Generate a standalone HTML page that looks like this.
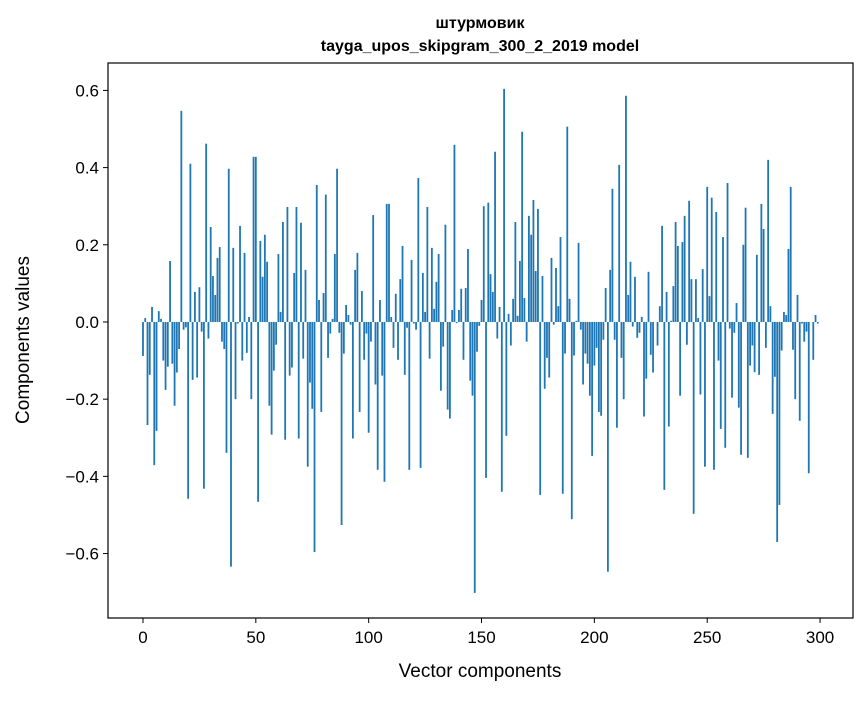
<!DOCTYPE html>
<html><head><meta charset="utf-8"><style>
body{margin:0;background:#fff;}
svg text{font-family:"Liberation Sans","DejaVu Sans",sans-serif;fill:#000;}
</style></head><body>
<svg id="chart" width="867" height="696" xmlns="http://www.w3.org/2000/svg">
<rect width="867" height="696" fill="#fff"/>
<text x="480" y="28" text-anchor="middle" font-size="16" font-weight="bold">штурмовик</text>
<text x="480" y="51" text-anchor="middle" font-size="16" font-weight="bold">tayga_upos_skipgram_300_2_2019 model</text>
<g id="bars"></g>
<g id="axes"></g>
<rect x="108" y="63" width="745" height="555" fill="none" stroke="#000" stroke-width="1.2"/>
<text x="480" y="677" text-anchor="middle" font-size="19">Vector components</text>
<text transform="translate(29,340) rotate(-90)" text-anchor="middle" font-size="19">Components values</text>
</svg>
<script>
const values = [
-0.088,0.01,-0.267,-0.137,0.039,-0.371,-0.282,0.028,0.008,-0.10,
-0.176,-0.116,0.158,-0.108,-0.217,-0.131,-0.07,0.547,-0.02,-0.014,
-0.458,0.41,-0.15,0.078,-0.144,0.09,-0.025,-0.432,0.462,-0.043,
0.246,0.119,0.07,0.166,0.194,-0.051,-0.07,-0.339,0.397,-0.634,
0.192,-0.2,-0.004,0.249,-0.1,0.179,-0.08,0.013,-0.2,0.428,
0.428,-0.466,0.21,0.117,0.226,0.156,-0.217,-0.292,-0.126,-0.059,
0.176,0.026,0.259,-0.305,0.298,-0.139,-0.118,0.127,0.298,-0.302,
0.257,-0.095,0.135,-0.375,-0.157,-0.225,-0.596,0.355,0.057,-0.233,
0.075,0.33,-0.093,-0.03,0.008,0.176,0.397,-0.028,-0.526,-0.082,
0.044,0.018,-0.007,-0.302,0.135,0.179,-0.233,0.08,-0.098,-0.03,
-0.287,-0.051,0.277,-0.162,-0.383,0.057,-0.139,-0.414,0.306,0.306,
0.013,-0.067,0.073,-0.098,0.111,0.197,-0.137,-0.015,-0.383,0.161,
-0.004,-0.02,0.373,-0.378,0.127,0.026,0.298,-0.095,0.192,0.034,
0.104,0.176,-0.178,-0.064,0.252,-0.227,-0.25,0.031,0.459,-0.003,
0.031,0.086,-0.098,0.088,0.189,-0.152,-0.191,-0.702,-0.077,-0.01,
0.057,0.30,-0.404,0.309,0.124,0.078,0.441,-0.043,0.039,-0.44,
0.604,-0.295,0.021,-0.061,0.06,0.259,0.016,0.158,0.493,0.062,
-0.051,0.275,0.226,0.316,0.132,0.293,-0.448,0.119,-0.173,-0.093,
-0.144,0.166,-0.007,0.14,0.041,0.22,-0.445,-0.082,0.506,0.06,
-0.511,-0.087,0.003,0.205,-0.02,-0.162,-0.082,-0.108,-0.191,-0.347,
-0.113,-0.067,-0.233,-0.243,-0.046,0.088,-0.647,0.135,0.345,-0.046,
-0.274,0.407,-0.093,-0.2,0.586,0.07,0.156,-0.012,0.117,-0.041,
-0.028,0.013,-0.245,-0.147,0.13,-0.085,-0.131,0.0,-0.061,0.041,
0.249,-0.435,0.078,-0.271,0.003,0.093,0.259,0.197,-0.191,0.207,
0.275,-0.059,0.314,0.111,-0.497,0.111,0.01,-0.188,0.137,-0.375,
0.35,0.067,0.322,-0.383,0.285,-0.1,-0.277,0.22,-0.326,0.36,
-0.017,-0.196,-0.028,0.049,-0.222,-0.344,0.2,0.296,-0.352,-0.113,
-0.061,-0.13,0.174,-0.137,0.306,0.241,-0.067,0.42,0.041,-0.238,
-0.142,-0.57,-0.474,-0.074,0.026,0.018,0.189,0.35,-0.072,-0.2,
0.07,-0.256,-0.004,-0.051,-0.025,-0.392,0.0,-0.098,0.018,-0.004
];
const xTicks = [0,50,100,150,200,250,300];
const yTicks = [-0.6,-0.4,-0.2,0.0,0.2,0.4,0.6];
const yTickLabels = ["\u22120.6","\u22120.4","\u22120.2","0.0","0.2","0.4","0.6"];

const NS="http://www.w3.org/2000/svg";
const X0=108,X1=853,Y0=63,Y1=618;
const xMin=-15.5,xMax=314.6,yMin=-0.767,yMax=0.671;
const xs=v=>X0+(v-xMin)/(xMax-xMin)*(X1-X0);
const ys=v=>Y1-(v-yMin)/(yMax-yMin)*(Y1-Y0);
const bars=document.getElementById('bars');
const bw=xs(0.8)-xs(0);
values.forEach((v,i)=>{
  const r=document.createElementNS(NS,'rect');
  const y=Math.min(ys(v),ys(0));
  r.setAttribute('x',xs(i)-bw/2);
  r.setAttribute('y',y);
  r.setAttribute('width',bw);
  r.setAttribute('height',Math.abs(ys(v)-ys(0)));
  r.setAttribute('fill','#1f77b4');
  
  
  bars.appendChild(r);
});
const axes=document.getElementById('axes');
xTicks.forEach(t=>{
  const l=document.createElementNS(NS,'line');
  l.setAttribute('x1',xs(t));l.setAttribute('x2',xs(t));
  l.setAttribute('y1',Y1);l.setAttribute('y2',Y1+5);
  l.setAttribute('stroke','#000');
  
  
  axes.appendChild(l);
  const tx=document.createElementNS(NS,'text');
  tx.setAttribute('x',xs(t));tx.setAttribute('y',Y1+25);
  tx.setAttribute('text-anchor','middle');tx.setAttribute('font-size','17');
  tx.textContent=t;
  
  
  axes.appendChild(tx);
});
yTicks.forEach((t,i)=>{
  const l=document.createElementNS(NS,'line');
  l.setAttribute('x1',X0-5);l.setAttribute('x2',X0);
  l.setAttribute('y1',ys(t));l.setAttribute('y2',ys(t));
  l.setAttribute('stroke','#000');
  
  
  axes.appendChild(l);
  const tx=document.createElementNS(NS,'text');
  tx.setAttribute('x',X0-9);tx.setAttribute('y',ys(t)+6);
  tx.setAttribute('text-anchor','end');tx.setAttribute('font-size','17');
  tx.textContent=yTickLabels[i];
  
  
  axes.appendChild(tx);
});
</script>
</body></html>
